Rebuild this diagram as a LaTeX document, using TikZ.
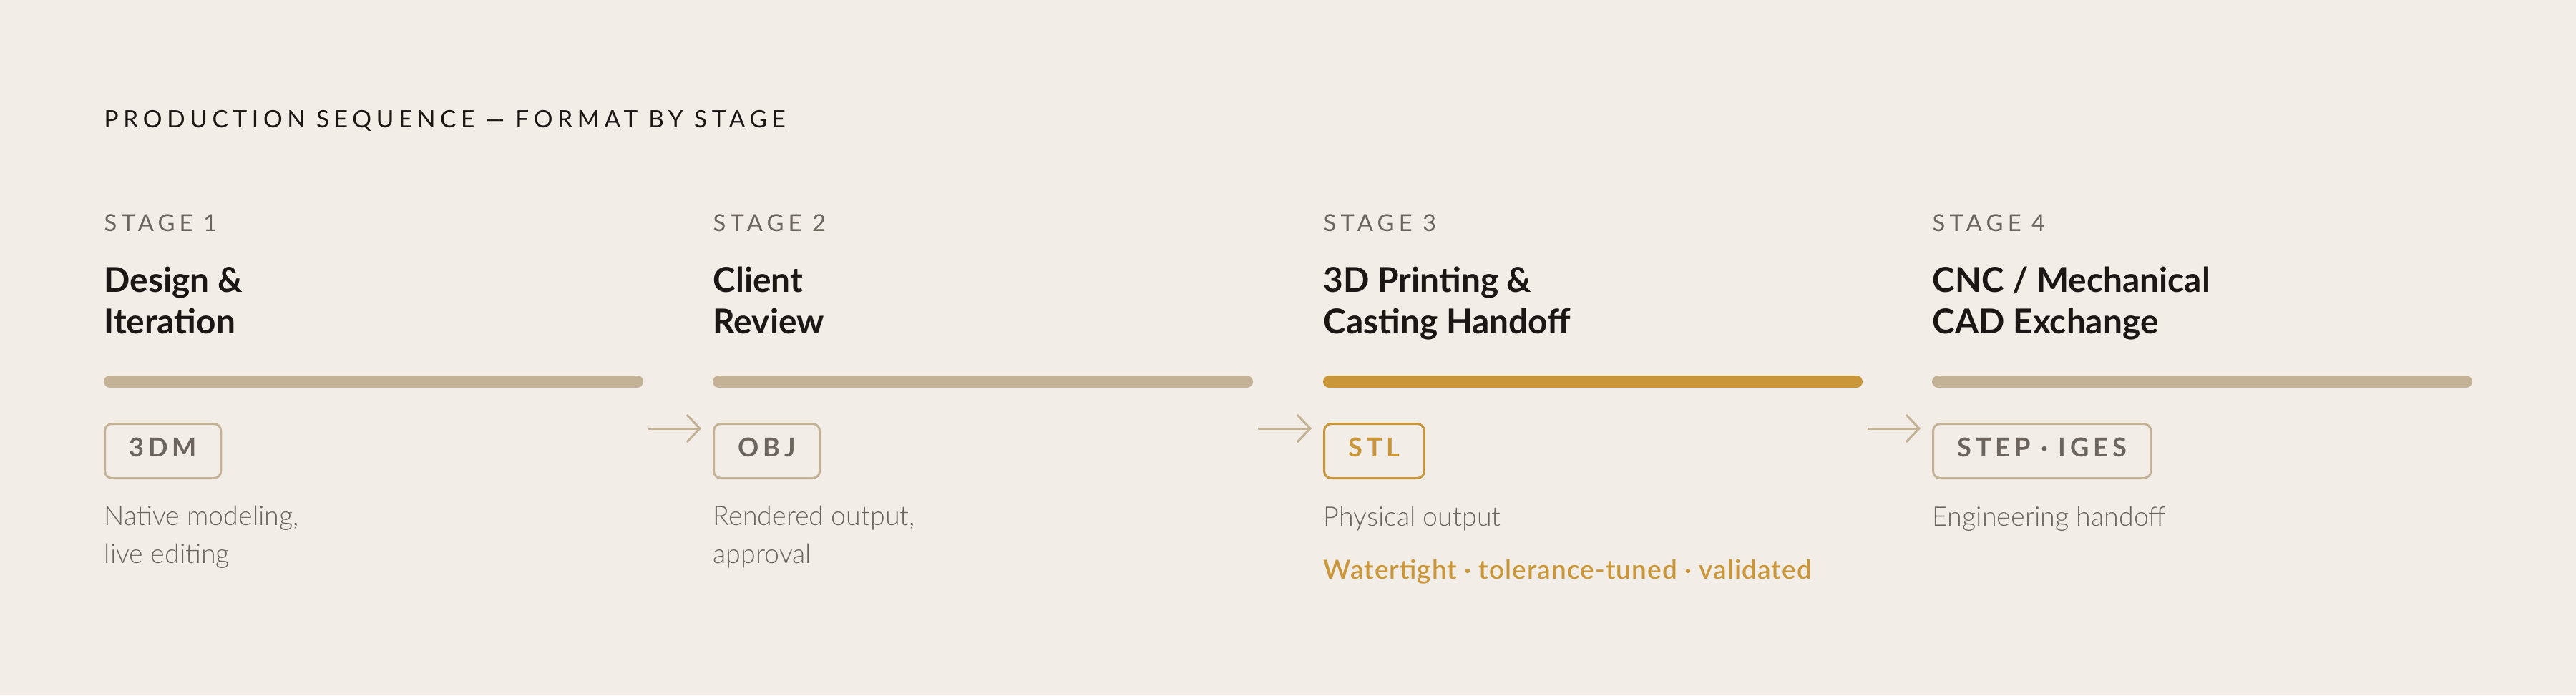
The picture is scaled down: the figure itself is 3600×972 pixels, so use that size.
\documentclass[tikz,border=0pt]{standalone}
\usepackage{fontspec}
\setmainfont{Lato}
\newfontfamily\lightfont{Lato Light}
\newfontfamily\semifont{Lato Semibold}
\usetikzlibrary{positioning,arrows.meta}
\definecolor{paper}{HTML}{F2EDE6}
\definecolor{ink}{HTML}{1C1714}
\definecolor{stone}{HTML}{6B655E}
\definecolor{sand}{HTML}{C4B296}
\definecolor{ochre}{HTML}{C9963A}
\tikzset{x=0.1mm,y=-0.1mm,every node/.style={inner sep=0pt,anchor=base west},
  heading/.style={font=\fontsize{9.5}{11}\selectfont\addfontfeature{LetterSpace=20},text=ink},
  kicker/.style={font=\fontsize{9.3}{11}\selectfont\addfontfeature{LetterSpace=19},text=stone},
  stagename/.style={font=\fontsize{13.6}{16.5}\selectfont\bfseries,text=ink,align=left},
  bar/.style={line width=1.7mm,line cap=round,draw=sand},
  fmt/.style={draw=sand,line width=0.3mm,rounded corners=1mm,anchor=north west,minimum height=7.6mm,
    inner xsep=3.4mm,text height=2.6mm,text depth=1.1mm,text=stone,
    font=\fontsize{10.3}{12}\selectfont\bfseries\addfontfeature{LetterSpace=16}},
  desc/.style={font=\lightfont\fontsize{10.7}{14.8}\selectfont,text=stone,align=left},
  flow/.style={draw=sand,line width=0.3mm,-{Straight Barb[length=1.8mm,width=3.8mm,line width=0.3mm]}}
}
\begin{document}
\begin{tikzpicture}
  \fill[paper] (0,0) rectangle (3600,972);
  \useasboundingbox (0,0) rectangle (3600,972);
  \node[heading] (title) at (145,179) {PRODUCTION SEQUENCE — FORMAT BY STAGE};

  % stage 1
  \node[kicker] (k1) at (145,323) {STAGE 1};
  \node[stagename] (n1) at (145,466) {Design \&\\Iteration};
  \draw[bar] (153.5,533.5) coordinate (b1w) -- (890.5,533.5) coordinate (b1e);
  \node[fmt] (f1) at (145,591) {3DM};
  \node[desc] (d1) at (145,787) {Native modeling,\\live editing};

  % stage 2
  \node[kicker] (k2) at (996,323) {STAGE 2};
  \node[stagename] (n2) at (996,466) {Client\\Review};
  \draw[bar] (1004.5,533.5) coordinate (b2w) -- (1742.5,533.5) coordinate (b2e);
  \node[fmt] (f2) at (996,591) {OBJ};
  \node[desc] (d2) at (996,787) {Rendered output,\\approval};

  % stage 3
  \node[kicker] (k3) at (1849,323) {STAGE 3};
  \node[stagename] (n3) at (1849,466) {3D Printing \&\\Casting Handoff};
  \draw[bar,draw=ochre] (1857.5,533.5) coordinate (b3w) -- (2594.5,533.5) coordinate (b3e);
  \node[fmt,draw=ochre,text=ochre] (f3) at (1849,591) {STL};
  \node[desc] (d3) at (1849,735) {Physical output};
  \node[font=\semifont\fontsize{10.5}{12}\selectfont\addfontfeature{LetterSpace=3},text=ochre] (q3) at (1849,809)
    {Watertight · tolerance-tuned · validated};

  % stage 4
  \node[kicker] (k4) at (2700,323) {STAGE 4};
  \node[stagename] (n4) at (2700,466) {CNC / Mechanical\\CAD Exchange};
  \draw[bar] (2708.5,533.5) coordinate (b4w) -- (3446.5,533.5) coordinate (b4e);
  \node[fmt] (f4) at (2700,591) {STEP · IGES};
  \node[desc] (d4) at (2700,735) {Engineering handoff};

  % hand-over arrows
  \draw[flow] ([shift={(15,8)}]b1e |- f1.north) -- ([shift={(-16,8)}]f2.north west);
  \draw[flow] ([shift={(15,8)}]b2e |- f2.north) -- ([shift={(-16,8)}]f3.north west);
  \draw[flow] ([shift={(15,8)}]b3e |- f3.north) -- ([shift={(-16,8)}]f4.north west);
\end{tikzpicture}
\end{document}
